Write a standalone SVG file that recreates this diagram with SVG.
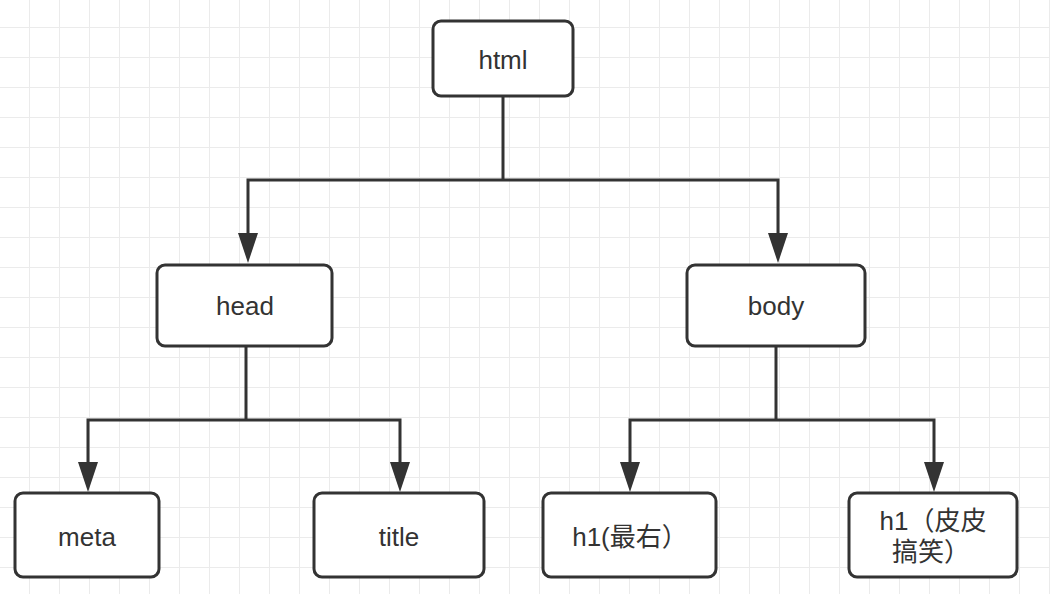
<svg xmlns="http://www.w3.org/2000/svg" width="1050" height="594" viewBox="0 0 1050 594">
<defs>
<pattern id="grid" x="29" y="27" width="30" height="30" patternUnits="userSpaceOnUse">
<path d="M0 0H30M0 0V30" fill="none" stroke="#ebebeb" stroke-width="2"/>
</pattern>
</defs>
<style>
.box{fill:#fff;stroke:#333;stroke-width:3}
.lbl{font-family:"Liberation Sans","Noto Sans CJK SC",sans-serif;font-size:26px;fill:#333;text-anchor:middle;dominant-baseline:central}
.edge{fill:none;stroke:#333;stroke-width:3}
.head{fill:#333}
</style>
<rect width="1050" height="594" fill="#fff"/>
<rect width="1050" height="594" fill="url(#grid)"/>
<g id="connectors">
<path class="edge" d="M503 97V180"/>
<path class="edge" d="M503 180H248V235"/>
<path class="edge" d="M503 180H778V235"/>
<path class="edge" d="M246 346V420"/>
<path class="edge" d="M246 420H88V465"/>
<path class="edge" d="M246 420H400V465"/>
<path class="edge" d="M776 346V420"/>
<path class="edge" d="M776 420H630V465"/>
<path class="edge" d="M776 420H934V465"/>
<path class="head" d="M238 233H258L248 263Z"/>
<path class="head" d="M768 233H788L778 263Z"/>
<path class="head" d="M78 462H98L88 492Z"/>
<path class="head" d="M390 462H410L400 492Z"/>
<path class="head" d="M620 462H640L630 492Z"/>
<path class="head" d="M924 462H944L934 492Z"/>
</g>
<g id="html"><rect class="box" x="433" y="21" width="140" height="75" rx="8"/><text class="lbl" x="503" y="60">html</text></g>
<g id="head"><rect class="box" x="157" y="265" width="175" height="81" rx="8"/><text class="lbl" x="245" y="306">head</text></g>
<g id="body"><rect class="box" x="687" y="265" width="178" height="81" rx="8"/><text class="lbl" x="776" y="306">body</text></g>
<g id="meta"><rect class="box" x="15" y="493" width="144" height="84" rx="8"/><text class="lbl" x="87" y="537">meta</text></g>
<g id="title"><rect class="box" x="314" y="493" width="170" height="84" rx="8"/><text class="lbl" x="399" y="537">title</text></g>
<g id="h1a"><rect class="box" x="543" y="493" width="173" height="84" rx="8"/><text class="lbl" x="630" y="537">h1(最右）</text></g>
<g id="h1b"><rect class="box" x="849" y="493" width="168" height="84" rx="8"/><text class="lbl" x="933" y="521">h1（皮皮</text><text class="lbl" x="931" y="552">搞笑）</text></g>
</svg>
